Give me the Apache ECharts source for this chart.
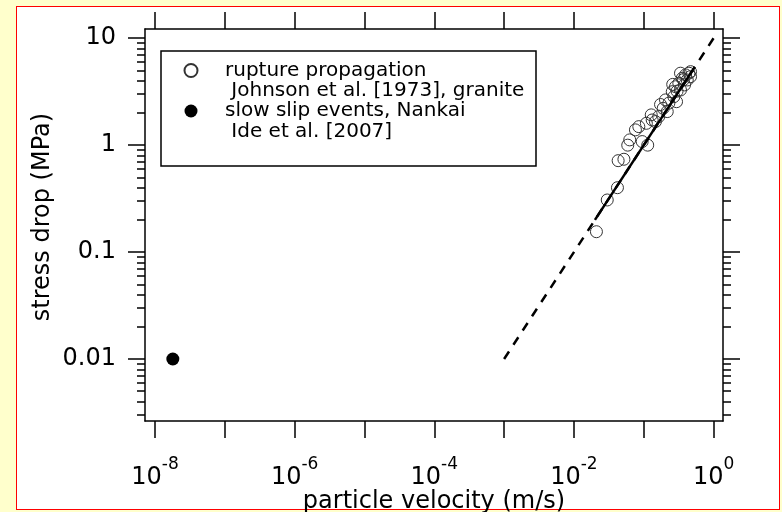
<!DOCTYPE html>
<html><head><meta charset="utf-8">
<script src="https://cdn.jsdelivr.net/npm/echarts@6/dist/echarts.min.js"></script>
<style>
html,body{margin:0;padding:0;background:#ffffcc;width:782px;height:512px;overflow:hidden;}
#frame{position:absolute;left:16px;top:6px;width:764px;height:504px;box-sizing:border-box;border:1.5px solid #ff0000;background:#ffffff;}
#chart{position:absolute;left:0;top:0;width:782px;height:512px;}
</style></head><body>
<div id="frame"></div><div id="chart"></div>
<script>
// ---- data ----
const ruptureVel = [0.021, 0.030, 0.042, 0.043, 0.052, 0.059, 0.063, 0.076, 0.085, 0.095, 0.114, 0.109, 0.128, 0.132, 0.147, 0.164, 0.190, 0.205, 0.217, 0.229, 0.256, 0.270, 0.295, 0.285, 0.318, 0.336, 0.356, 0.384, 0.397, 0.420, 0.443, 0.468, 0.336, 0.468, 0.260, 0.300, 0.370, 0.174];
const ruptureStress = [0.155, 0.307, 0.400, 0.716, 0.738, 1.00, 1.12, 1.39, 1.49, 1.08, 1.00, 1.60, 1.92, 1.72, 1.66, 1.85, 2.21, 2.65, 2.06, 2.47, 3.16, 2.84, 2.55, 3.52, 3.79, 3.28, 4.22, 3.66, 4.54, 4.07, 4.71, 4.37, 4.71, 4.87, 3.70, 3.20, 4.10, 2.40];
const nankaiVel = [1.8e-8];
const nankaiStress = [0.01];
const dashedVel = [1e-3, 1];
const dashedStress = [0.01, 10];
const solidVel = [0.02, 0.5];
const solidStress = [0.2, 5];
const seriesNames = ['rupture propagation\n Johnson et al. [1973], granite', 'slow slip events, Nankai\n Ide et al. [2007]'];
const xTickValues = [1e-8, 1e-7, 1e-6, 1e-5, 1e-4, 1e-3, 1e-2, 1e-1, 1];
const xLabelValues = [1e-8, 1e-6, 1e-4, 1e-2, 1];
const xLabelExponents = ['-8', '-6', '-4', '-2', '0'];
const yTickValues = [0.01, 0.1, 1, 10];
const yTickLabels = ['0.01', '0.1', '1', '10'];
const yMinorMultipliers = [2, 3, 4, 5, 6, 7, 8, 9];
const yDecades = [0.001, 0.01, 0.1, 1];
const xName = 'particle velocity (m/s)';
const yName = 'stress drop (MPa)';

// axis ranges
const xMin = 7.19e-9, xMax = 1.365;
const yMin = 0.00263, yMax = 12.2;

const yMinorValues = [];
yDecades.forEach(d => yMinorMultipliers.forEach(m => { const v = d * m; if (v > yMin && v < yMax) yMinorValues.push(v); }));

const FONT = 'DejaVu Sans';
const lineW = 1.5;

function idxOf(arr, v) { let b = 0; for (let i = 1; i < arr.length; i++) if (Math.abs(Math.log10(arr[i]) - Math.log10(v)) < Math.abs(Math.log10(arr[b]) - Math.log10(v))) b = i; return b; }

const grid = { left: 145, top: 29, right: 59, bottom: 91, containLabel: false, outerBoundsMode: 'none' };

function xAxisDef(pos, withLabels) {
  return {
    type: 'log', position: pos, min: xMin, max: xMax, logBase: 10,
    axisLine: { show: true, onZero: false, lineStyle: { color: '#000', width: lineW } },
    axisTick: { show: true, inside: false, length: 17, customValues: xTickValues, lineStyle: { color: '#000', width: lineW } },
    axisLabel: withLabels ? {
      show: true, customValues: xLabelValues, margin: 35,
      formatter: v => '{b|10}{s|' + xLabelExponents[idxOf(xLabelValues, v)] + '}',
      rich: {
        b: { fontFamily: FONT, fontSize: 24, color: '#000', lineHeight: 34, verticalAlign: 'bottom' },
        s: { fontFamily: FONT, fontSize: 17, color: '#000', verticalAlign: 'top' }
      }
    } : { show: false },
    splitLine: { show: false },
    name: withLabels ? xName : '', nameLocation: 'middle', nameGap: 69, nameMoveOverlap: false,
    nameTextStyle: { fontFamily: FONT, fontSize: 24, color: '#000' }
  };
}
function yAxisDef(pos, major, withLabels) {
  return {
    type: 'log', position: pos, min: yMin, max: yMax, logBase: 10,
    axisLine: { show: major, onZero: false, lineStyle: { color: '#000', width: lineW } },
    axisTick: { show: true, inside: false, length: major ? 17 : 8, customValues: major ? yTickValues : yMinorValues, lineStyle: { color: '#000', width: lineW } },
    axisLabel: withLabels ? {
      show: true, customValues: yTickValues, margin: 29,
      fontFamily: FONT, fontSize: 24, color: '#000',
      formatter: v => yTickLabels[idxOf(yTickValues, v)]
    } : { show: false },
    splitLine: { show: false },
    name: withLabels ? yName : '', nameLocation: 'middle', nameGap: 90, nameRotate: 90, nameMoveOverlap: false,
    nameTextStyle: { fontFamily: FONT, fontSize: 24, color: '#000', padding: [0, 0, 0, 16] }
  };
}

const chart = echarts.init(document.getElementById('chart'), null, { renderer: 'canvas' });
chart.setOption({
  animation: false,
  backgroundColor: 'transparent',
  grid: grid,
  xAxis: [xAxisDef('bottom', true), xAxisDef('top', false)],
  yAxis: [yAxisDef('left', true, true), yAxisDef('left', false, false), yAxisDef('right', true, false), yAxisDef('right', false, false)],
  graphic: [{
    type: 'rect', z: 1, silent: true,
    shape: { x: 161, y: 51, width: 375, height: 115 },
    style: { fill: 'none', stroke: '#000', lineWidth: 1.5 }
  }],
  legend: {
    show: true, orient: 'vertical', left: 161, top: 39.75,
    padding: [0, 10, 0, 22.5], itemWidth: 13, itemHeight: 13, itemGap: -21,
    selectedMode: false,
    formatter: name => '\n' + name,
    data: [{ name: seriesNames[0], icon: 'circle' }, { name: seriesNames[1], icon: 'circle' }],
    textStyle: { fontFamily: FONT, fontSize: 20, lineHeight: 20.5, color: '#000', padding: [0, 0, 0, 22.5] }
  },
  series: [
    {
      name: seriesNames[0], type: 'scatter', xAxisIndex: 0, yAxisIndex: 0,
      symbol: 'circle', symbolSize: 12,
      itemStyle: { color: 'rgba(255,255,255,0)', borderColor: '#333', borderWidth: 1, opacity: 1 },
      data: ruptureVel.map((v, i) => [v, ruptureStress[i]]), z: 2
    },
    {
      name: seriesNames[1], type: 'scatter', xAxisIndex: 0, yAxisIndex: 0,
      symbol: 'circle', symbolSize: 13,
      itemStyle: { color: '#000', borderColor: '#000', borderWidth: 0, opacity: 1 },
      data: nankaiVel.map((v, i) => [v, nankaiStress[i]]), z: 2
    },
    {
      name: 'fit (extrapolated)', type: 'line', xAxisIndex: 0, yAxisIndex: 0,
      showSymbol: false, symbol: 'none', silent: true,
      lineStyle: { color: '#000', width: 2.5, type: [9, 8] },
      data: dashedVel.map((v, i) => [v, dashedStress[i]]), z: 3
    },
    {
      name: 'fit', type: 'line', xAxisIndex: 0, yAxisIndex: 0,
      showSymbol: false, symbol: 'none', silent: true,
      lineStyle: { color: '#000', width: 2.5, type: 'solid' },
      data: solidVel.map((v, i) => [v, solidStress[i]]), z: 4
    }
  ]
});
</script></body></html>
